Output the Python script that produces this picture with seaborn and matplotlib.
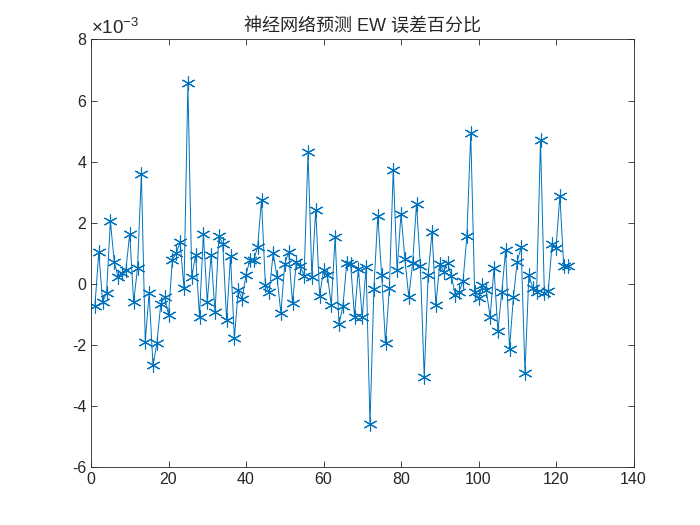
import numpy as np
import pandas as pd
import seaborn as sns
import matplotlib
matplotlib.use('Agg')
import matplotlib.pyplot as plt

# 误差百分比数据 (单位 1e-3)
sample_idx = list(range(1, 124))
err_pct = [
    -0.74, 1.03, -0.58, -0.31, 2.05, 0.72, 0.21, 0.37, 0.47, 1.64,
    -0.60, 0.52, 3.60, -1.89, -0.31, -2.66, -1.95, -0.66, -0.44, -1.02,
    0.79, 1.00, 1.36, -0.14, 6.57, 0.22, 0.95, -1.07, 1.64, -0.58,
    0.95, -0.93, 1.57, 1.31, -1.18, 0.92, -1.78, -0.20, -0.49, 0.30,
    0.79, 0.79, 1.21, 2.75, -0.04, -0.27, 1.00, 0.24, -0.96, 0.65,
    1.04, -0.63, 0.73, 0.57, 0.27, 4.30, 0.24, 2.43, -0.39, 0.44,
    0.30, -0.69, 1.52, -1.32, -0.74, 0.68, 0.65, -1.07, 0.48, -1.09,
    0.55, -4.60, -0.17, 2.23, 0.30, -1.95, -0.14, 3.74, 0.44, 2.30,
    0.81, -0.42, 0.68, 2.62, 0.57, -3.05, 0.28, 1.70, -0.69, 0.66,
    0.40, 0.68, 0.26, -0.36, -0.25, 0.08, 1.57, 4.94, -0.25, -0.47,
    -0.03, -0.20, -1.09, 0.51, -1.54, -0.28, 1.11, -2.14, -0.44, 0.73,
    1.22, -2.90, 0.30, -0.14, -0.28, 4.70, -0.31, -0.22, 1.30, 1.19,
    2.88, 0.57, 0.57,
]
x_ticks = [0, 20, 40, 60, 80, 100, 120, 140]
y_ticks = [-6, -4, -2, 0, 2, 4, 6, 8]
title = '神经网络预测 EW 误差百分比'

df = pd.DataFrame({'idx': sample_idx, 'err': err_pct})

sns.set_theme(style='white')
plt.rcParams['font.family'] = ['Liberation Sans', 'Noto Sans CJK SC', 'DejaVu Sans']
plt.rcParams['axes.unicode_minus'] = False
plt.rcParams['mathtext.fontset'] = 'custom'
plt.rcParams['mathtext.rm'] = 'Liberation Sans'

fig = plt.figure(figsize=(7, 5.25), dpi=100)
ax = fig.add_axes([0.13, 0.11, 0.775, 0.815])

sns.lineplot(data=df, x='idx', y='err', ax=ax, color='#0072BD',
             linewidth=0.7, marker=(6, 2, 0), markersize=10,
             markeredgewidth=0.8, markeredgecolor='#0072BD')

ax.set_xlim(0, 140)
ax.set_ylim(-6, 8)
ax.set_xticks(x_ticks)
ax.set_yticks(y_ticks)
ax.set_xlabel('')
ax.set_ylabel('')
ax.tick_params(direction='in', length=4, width=0.6, colors='#262626',
               labelsize=11.5, top=True, right=True, bottom=True, left=True)
for sp in ax.spines.values():
    sp.set_visible(True)
    sp.set_color('#262626')
    sp.set_linewidth(0.6)

ax.set_title(title, fontsize=13, color='#262626', pad=6)
ax.text(0.0, 1.003, '×10$^{-3}$', transform=ax.transAxes, ha='left',
        va='bottom', fontsize=13.5, color='#262626')

fig.savefig('out.png', dpi=100, facecolor='white')
